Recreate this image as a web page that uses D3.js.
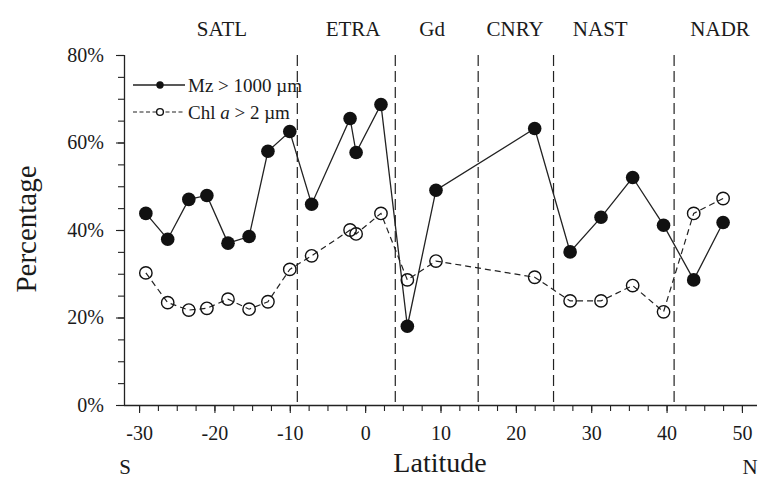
<!DOCTYPE html>
<html>
<head>
<meta charset="utf-8">
<script src="https://cdn.jsdelivr.net/npm/d3@7"></script>
<style>
	body { margin: 0; background: #fff; }
	svg { display: block; }
	text { font-family: 'Liberation Serif', 'Times New Roman', serif; fill: #1a1a1a; }
</style>
</head>
<body>
<div id="chart"></div>
<script>
// station latitudes (deg, negative = south)
const latitudes = [-29.1, -26.2, -23.4, -21.0, -18.2, -15.4, -12.9, -10.0, -7.1, -2.0, -1.2, 2.1, 5.6, 9.4, 22.5, 27.2, 31.3, 35.5, 39.6, 43.6, 47.5];
// percentage of mesozooplankton > 1000 um
const mzValues = [43.8, 37.9, 47.0, 47.9, 37.0, 38.5, 58.0, 62.5, 45.9, 65.5, 57.7, 68.7, 18.0, 49.1, 63.2, 35.0, 42.9, 52.0, 41.1, 28.6, 41.7];
// percentage of chlorophyll a > 2 um
const chlValues = [30.2, 23.4, 21.7, 22.1, 24.2, 21.9, 23.6, 31.0, 34.1, 40.0, 39.1, 43.8, 28.6, 32.9, 29.2, 23.8, 23.8, 27.3, 21.3, 43.8, 47.2];

// province boundaries and labels
const provinceBounds = [-9, 4, 15, 25, 41];
const provinceNames = ['SATL', 'ETRA', 'Gd', 'CNRY', 'NAST', 'NADR'];
const provinceLabelLat = [-19.0, -1.6, 8.9, 19.9, 31.2, 47.1];

const xTicks = [-30, -20, -10, 0, 10, 20, 30, 40, 50];
const yTicks = [0, 20, 40, 60, 80];

const width = 760, height = 481;

const svg = d3.select('#chart').append('svg')
	.attr('width', width)
	.attr('height', height);

const x = d3.scaleLinear().domain([-32, 52]).range([124, 757]);
const y = d3.scaleLinear().domain([0, 80]).range([405, 55]);

// province separators
svg.append('g').selectAll('line')
	.data(provinceBounds)
	.enter()
	.append('line')
	.attr('x1', (d)=>x(d)).attr('x2', (d)=>x(d))
	.attr('y1', y(80)).attr('y2', y(0))
	.attr('stroke', '#222')
	.attr('stroke-width', 1.2)
	.attr('stroke-dasharray', '11,5');

svg.append('g').selectAll('text')
	.data(provinceNames)
	.enter()
	.append('text')
	.attr('x', (d, i)=>x(provinceLabelLat[i]))
	.attr('y', 36)
	.attr('text-anchor', 'middle')
	.attr('font-size', 21)
	.text((d)=>d);

// axes
const xMinor = d3.axisBottom(x)
	.tickValues(d3.range(-30, 52, 2.5))
	.tickSize(6)
	.tickFormat('');
const xAxis = d3.axisBottom(x)
	.tickValues(xTicks)
	.tickSize(8)
	.tickPadding(13)
	.tickFormat((d)=>String(d));

const gxMinor = svg.append('g').attr('transform', `translate(0,${y(0)})`).call(xMinor);
const gx = svg.append('g').attr('transform', `translate(0,${y(0)})`).call(xAxis);
gxMinor.select('.domain').remove();
gx.select('.domain').attr('d', `M${x(-32)},0.5H${x(52)}`);

const yMinor = d3.axisLeft(y)
	.tickValues(d3.range(0, 81, 5))
	.tickSize(6)
	.tickFormat('');
const yAxis = d3.axisLeft(y)
	.tickValues(yTicks)
	.tickSize(8)
	.tickPadding(12)
	.tickFormat((d)=>d + '%');

const gyMinor = svg.append('g').attr('transform', `translate(${x(-32)},0)`).call(yMinor);
const gy = svg.append('g').attr('transform', `translate(${x(-32)},0)`).call(yAxis);
gyMinor.select('.domain').remove();
gy.select('.domain').attr('d', `M0.5,${y(80)}V${y(0)}`);

svg.selectAll('.tick line').attr('stroke', '#222').attr('stroke-width', 1.1);
svg.selectAll('.domain').attr('stroke', '#222').attr('stroke-width', 1.3);
svg.selectAll('.tick text')
	.attr('font-family', 'Liberation Serif, Times New Roman, serif')
	.attr('font-size', 20)
	.attr('fill', '#1a1a1a');

// axis titles
svg.append('text')
	.attr('transform', `translate(36,${y(40) - 1}) rotate(-90)`)
	.attr('text-anchor', 'middle')
	.attr('font-size', 29)
	.text('Percentage');

svg.append('text')
	.attr('x', 440).attr('y', 472)
	.attr('text-anchor', 'middle')
	.attr('font-size', 28)
	.text('Latitude');

svg.append('text').attr('x', 125).attr('y', 474).attr('text-anchor', 'middle').attr('font-size', 21).text('S');
svg.append('text').attr('x', 750).attr('y', 474).attr('text-anchor', 'middle').attr('font-size', 21).text('N');

// series
const points = latitudes.map((lat, i)=>({lat: lat, mz: mzValues[i], chl: chlValues[i]}));

const chlLine = d3.line().x((d)=>x(d.lat)).y((d)=>y(d.chl));
const mzLine = d3.line().x((d)=>x(d.lat)).y((d)=>y(d.mz));

svg.append('path')
	.datum(points)
	.attr('d', chlLine)
	.attr('fill', 'none')
	.attr('stroke', '#222')
	.attr('stroke-width', 1.2)
	.attr('stroke-dasharray', '6,4');

svg.append('path')
	.datum(points)
	.attr('d', mzLine)
	.attr('fill', 'none')
	.attr('stroke', '#222')
	.attr('stroke-width', 1.3);

svg.append('g').selectAll('circle')
	.data(points)
	.enter()
	.append('circle')
	.attr('cx', (d)=>x(d.lat))
	.attr('cy', (d)=>y(d.chl))
	.attr('r', 6.2)
	.attr('fill', 'none')
	.attr('stroke', '#111')
	.attr('stroke-width', 1.4);

svg.append('g').selectAll('circle')
	.data(points)
	.enter()
	.append('circle')
	.attr('cx', (d)=>x(d.lat))
	.attr('cy', (d)=>y(d.mz))
	.attr('r', 6.8)
	.attr('fill', '#111');

// legend
const legend = svg.append('g').attr('transform', 'translate(133,85)');

legend.append('line').attr('x1', 0).attr('x2', 52).attr('y1', 0).attr('y2', 0)
	.attr('stroke', '#222').attr('stroke-width', 1.3);
legend.append('circle').attr('cx', 27).attr('cy', 0).attr('r', 3.7).attr('fill', '#111');
legend.append('text').attr('x', 55).attr('y', 6.5).attr('font-size', 19).text('Mz > 1000 µm');

legend.append('line').attr('x1', 0).attr('x2', 52).attr('y1', 27).attr('y2', 27)
	.attr('stroke', '#222').attr('stroke-width', 1.2).attr('stroke-dasharray', '4,2.5');
legend.append('circle').attr('cx', 27).attr('cy', 27).attr('r', 3.4)
	.attr('fill', '#fff').attr('stroke', '#111').attr('stroke-width', 1.4);
const chlText = legend.append('text').attr('x', 55).attr('y', 33.5).attr('font-size', 19);
chlText.append('tspan').text('Chl ');
chlText.append('tspan').attr('font-style', 'italic').text('a');
chlText.append('tspan').text(' > 2 µm');
</script>
</body>
</html>
